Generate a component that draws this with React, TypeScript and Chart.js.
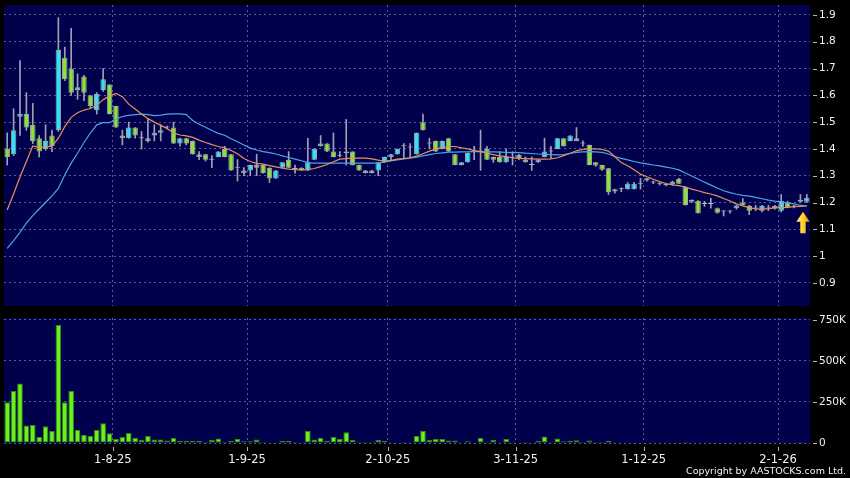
import React, { useEffect, useRef } from 'react';
import { Chart, registerables } from 'chart.js';

Chart.register(...registerables);

const DATES: string[] = [
  '9-7-25','10-7-25','11-7-25','14-7-25','15-7-25','16-7-25','17-7-25','18-7-25','21-7-25','22-7-25',
  '23-7-25','24-7-25','25-7-25','28-7-25','29-7-25','30-7-25','31-7-25',
  '1-8-25','4-8-25','5-8-25','6-8-25','7-8-25','8-8-25','11-8-25','12-8-25','13-8-25','14-8-25',
  '15-8-25','18-8-25','19-8-25','20-8-25','21-8-25','22-8-25','25-8-25','26-8-25','27-8-25','28-8-25','29-8-25',
  '1-9-25','2-9-25','3-9-25','4-9-25','5-9-25','8-9-25','9-9-25','10-9-25','11-9-25','12-9-25',
  '15-9-25','16-9-25','17-9-25','18-9-25','19-9-25','22-9-25','23-9-25','24-9-25','25-9-25','26-9-25','29-9-25','30-9-25',
  '2-10-25','3-10-25','6-10-25','8-10-25','9-10-25','10-10-25','13-10-25','14-10-25','15-10-25','16-10-25',
  '17-10-25','20-10-25','21-10-25','22-10-25','23-10-25','24-10-25','27-10-25','28-10-25','30-10-25','31-10-25',
  '3-11-25','4-11-25','5-11-25','6-11-25','7-11-25','10-11-25','11-11-25','12-11-25','13-11-25','14-11-25',
  '17-11-25','18-11-25','19-11-25','20-11-25','21-11-25','24-11-25','25-11-25','26-11-25','27-11-25','28-11-25',
  '1-12-25','2-12-25','3-12-25','4-12-25','5-12-25','8-12-25','9-12-25','10-12-25','11-12-25','12-12-25',
  '15-12-25','16-12-25','17-12-25','18-12-25','19-12-25','22-12-25','23-12-25','24-12-25','29-12-25','30-12-25','31-12-25',
  '2-1-26','5-1-26','6-1-26','7-1-26','8-1-26',
];

const X_TICK_LABELS: string[] = ['1-8-25', '1-9-25', '2-10-25', '3-11-25', '1-12-25', '2-1-26'];

const OPEN: number[] = [
  1.40,1.38,1.52,1.53,1.49,1.44,1.40,1.45,1.47,1.74,
  1.70,1.62,1.67,1.60,1.545,1.62,1.64,1.56,1.45,1.44,
  1.48,1.44,1.43,1.45,1.46,1.48,1.48,1.42,1.44,1.43,
  1.38,1.38,1.36,1.37,1.40,1.38,1.33,1.32,1.32,1.34,
  1.34,1.33,1.29,1.33,1.36,1.325,1.33,1.32,1.36,1.42,
  1.42,1.39,1.375,1.385,1.39,1.34,1.32,1.32,1.32,1.35,
  1.37,1.38,1.41,1.405,1.38,1.50,1.42,1.43,1.40,1.44,
  1.38,1.34,1.35,1.39,1.39,1.40,1.37,1.37,1.35,1.365,
  1.377,1.36,1.34,1.35,1.37,1.39,1.40,1.44,1.43,1.43,
  1.42,1.415,1.35,1.34,1.328,1.25,1.25,1.25,1.25,1.27,
  1.282,1.275,1.27,1.27,1.268,1.288,1.259,1.203,1.207,1.195,
  1.195,1.179,1.167,1.167,1.179,1.20,1.187,1.178,1.169,1.178,
  1.187,1.169,1.20,1.185,1.203,1.203,
];

const HIGH: number[] = [
  1.46,1.55,1.73,1.61,1.57,1.45,1.49,1.47,1.89,1.78,
  1.85,1.68,1.675,1.60,1.61,1.70,1.64,1.56,1.47,1.50,
  1.48,1.465,1.51,1.49,1.49,1.485,1.50,1.44,1.44,1.43,
  1.39,1.38,1.375,1.39,1.41,1.38,1.36,1.33,1.34,1.38,
  1.34,1.33,1.32,1.35,1.39,1.34,1.33,1.44,1.40,1.45,
  1.42,1.46,1.39,1.51,1.39,1.34,1.32,1.32,1.35,1.37,
  1.38,1.40,1.42,1.42,1.46,1.53,1.44,1.43,1.43,1.44,
  1.38,1.35,1.385,1.41,1.47,1.41,1.37,1.39,1.40,1.39,
  1.38,1.37,1.37,1.36,1.44,1.41,1.44,1.44,1.45,1.48,
  1.43,1.415,1.35,1.34,1.328,1.25,1.255,1.275,1.275,1.29,
  1.29,1.28,1.275,1.27,1.28,1.29,1.26,1.21,1.207,1.205,
  1.216,1.18,1.17,1.17,1.19,1.215,1.19,1.19,1.19,1.19,
  1.19,1.23,1.205,1.19,1.23,1.23,
];

const LOW: number[] = [
  1.34,1.375,1.45,1.47,1.42,1.37,1.395,1.39,1.465,1.655,
  1.60,1.585,1.58,1.55,1.53,1.615,1.53,1.48,1.415,1.44,
  1.44,1.40,1.425,1.43,1.43,1.475,1.42,1.41,1.415,1.38,
  1.36,1.355,1.33,1.37,1.37,1.32,1.28,1.30,1.30,1.30,
  1.31,1.275,1.29,1.33,1.33,1.31,1.32,1.32,1.36,1.41,
  1.39,1.37,1.37,1.34,1.34,1.32,1.31,1.31,1.30,1.35,
  1.36,1.38,1.365,1.37,1.38,1.47,1.40,1.39,1.40,1.39,
  1.34,1.34,1.35,1.36,1.32,1.36,1.35,1.35,1.35,1.34,
  1.36,1.35,1.32,1.35,1.37,1.365,1.40,1.41,1.43,1.43,
  1.41,1.34,1.335,1.32,1.23,1.235,1.24,1.25,1.25,1.25,
  1.28,1.27,1.265,1.262,1.265,1.27,1.19,1.20,1.16,1.185,
  1.179,1.16,1.15,1.16,1.175,1.189,1.155,1.17,1.165,1.17,
  1.175,1.165,1.18,1.18,1.20,1.20,
];

const CLOSE: number[] = [
  1.37,1.47,1.53,1.48,1.43,1.39,1.43,1.41,1.77,1.66,
  1.61,1.63,1.61,1.56,1.605,1.66,1.53,1.48,1.44,1.48,
  1.45,1.44,1.44,1.46,1.47,1.48,1.42,1.44,1.42,1.38,
  1.37,1.36,1.36,1.39,1.37,1.32,1.33,1.31,1.34,1.33,
  1.31,1.29,1.32,1.35,1.33,1.325,1.32,1.35,1.40,1.41,
  1.39,1.37,1.375,1.39,1.34,1.32,1.31,1.31,1.35,1.37,
  1.38,1.40,1.41,1.405,1.46,1.47,1.42,1.39,1.43,1.39,
  1.34,1.35,1.385,1.39,1.39,1.36,1.36,1.35,1.37,1.365,
  1.365,1.35,1.34,1.36,1.39,1.39,1.44,1.41,1.45,1.44,
  1.42,1.34,1.338,1.322,1.238,1.241,1.25,1.27,1.27,1.27,
  1.291,1.275,1.27,1.265,1.278,1.27,1.191,1.21,1.16,1.195,
  1.195,1.162,1.167,1.167,1.189,1.189,1.169,1.178,1.187,1.178,
  1.179,1.206,1.182,1.185,1.21,1.218,
];

const MA_FAST: number[] = [
  1.172,1.232,1.295,1.353,1.411,1.405,1.408,1.41,1.44,1.483,
  1.518,1.535,1.545,1.551,1.563,1.584,1.598,1.607,1.595,1.567,
  1.549,1.53,1.513,1.50,1.488,1.476,1.46,1.452,1.449,1.443,
  1.433,1.424,1.416,1.409,1.404,1.394,1.382,1.364,1.353,1.346,
  1.343,1.338,1.333,1.328,1.325,1.323,1.322,1.323,1.327,1.334,
  1.342,1.352,1.362,1.364,1.366,1.366,1.366,1.363,1.358,1.354,
  1.357,1.362,1.364,1.367,1.373,1.382,1.392,1.399,1.405,1.409,
  1.409,1.404,1.40,1.394,1.39,1.384,1.379,1.374,1.371,1.367,
  1.365,1.364,1.363,1.362,1.362,1.363,1.367,1.375,1.384,1.393,
  1.398,1.40,1.40,1.398,1.392,1.371,1.349,1.337,1.322,1.306,
  1.296,1.287,1.278,1.271,1.266,1.263,1.258,1.25,1.244,1.237,
  1.232,1.225,1.215,1.206,1.195,1.187,1.181,1.176,1.175,1.177,
  1.18,1.181,1.182,1.185,1.186,1.187,
];

const MA_SLOW: number[] = [
  1.029,1.058,1.089,1.123,1.151,1.176,1.20,1.225,1.253,1.303,
  1.347,1.384,1.424,1.459,1.49,1.498,1.498,1.511,1.521,1.525,
  1.528,1.53,1.528,1.524,1.526,1.53,1.531,1.531,1.528,1.506,
  1.492,1.481,1.469,1.458,1.451,1.438,1.427,1.415,1.403,1.396,
  1.39,1.386,1.381,1.374,1.368,1.362,1.356,1.349,1.347,1.347,
  1.347,1.347,1.347,1.347,1.347,1.347,1.347,1.347,1.348,1.351,
  1.355,1.359,1.363,1.366,1.369,1.374,1.379,1.383,1.385,1.388,
  1.388,1.389,1.389,1.39,1.39,1.389,1.389,1.388,1.387,1.386,
  1.386,1.384,1.383,1.381,1.38,1.379,1.378,1.379,1.383,1.387,
  1.389,1.39,1.389,1.387,1.381,1.371,1.365,1.359,1.353,1.348,
  1.344,1.34,1.337,1.332,1.328,1.322,1.31,1.299,1.288,1.276,
  1.265,1.254,1.244,1.237,1.231,1.227,1.224,1.219,1.214,1.209,
  1.205,1.202,1.199,1.195,1.19,1.187,
];

// volume in thousands of shares
const VOLUME_K: number[] = [
  248,317,362,106,110,37,102,73,720,248,
  317,79,49,43,79,120,59,24,37,61,
  30,20,43,22,22,16,30,14,14,12,
  14,8,18,28,8,12,24,10,10,22,
  6,4,4,12,12,6,2,73,22,30,
  14,37,26,65,18,8,8,8,18,12,
  4,2,6,4,43,73,20,24,24,16,
  16,4,10,2,30,8,18,4,24,6,
  4,6,4,12,39,6,28,11,13,17,
  8,16,6,6,14,4,2,3,2,2,
  2,1,2,2,3,2,8,2,3,1,
  2,2,2,1,2,2,6,1,2,1,
  2,3,2,2,6,2,
];

const PRICE_TICKS: number[] = [0.9, 1, 1.1, 1.2, 1.3, 1.4, 1.5, 1.6, 1.7, 1.8, 1.9];
const PRICE_MIN = 0.814;
const PRICE_MAX = 1.937;
const VOLUME_TICKS: number[] = [0, 250000, 500000, 750000];
const VOLUME_MAX = 762000;
const ARROW_BASE = 1.085;
const ARROW_TIP = 1.166;

const NAVY = '#00004c';
const GRID = '#5c5c8e';
const TEXT = '#f2f2f2';
const FONT = 'DejaVu Sans';
const UP = '#30e2f4';
const DOWN = '#8ae23a';
const BODY_BORDER = '#a4a4ac';
const DOJI = '#b4b4c4';
const WICK = '#a0a0b4';
const VOL_FILL = '#6cf01c';
const VOL_BORDER = '#2f8c12';
const ORANGE = '#e8905c';
const BLUE = '#4aa6e6';
const AXIS_W = 40;
const SLOT_HALF = 3.2;

const panelBg = {
  id: 'panelBg',
  beforeDraw(chart: any) {
    const { ctx, chartArea: a } = chart;
    ctx.save();
    ctx.fillStyle = NAVY;
    ctx.fillRect(a.left, a.top, a.right - a.left, a.bottom - a.top);
    ctx.restore();
  },
};

const tickMarks = {
  id: 'tickMarks',
  afterDraw(chart: any, _args: any, opts: any) {
    const { ctx, chartArea: a } = chart;
    const ys = chart.scales.y;
    ctx.save();
    ctx.strokeStyle = '#b4b4b4';
    ctx.lineWidth = 1;
    ys.ticks.forEach((t: any) => {
      const py = Math.round(ys.getPixelForValue(t.value)) + 0.5;
      ctx.beginPath();
      ctx.moveTo(a.right + 3, py);
      ctx.lineTo(a.right + 7, py);
      ctx.stroke();
    });
    if (opts && opts.xMarks) {
      const xs = chart.scales.x;
      DATES.forEach((d, i) => {
        if (!X_TICK_LABELS.includes(d)) return;
        const px = Math.round(xs.getPixelForValue(i) - SLOT_HALF) + 0.5;
        ctx.beginPath();
        ctx.moveTo(px, a.bottom + 4);
        ctx.lineTo(px, a.bottom + 8);
        ctx.stroke();
      });
    }
    ctx.restore();
  },
};

const arrowPlugin = {
  id: 'arrowMark',
  afterDatasetsDraw(chart: any) {
    const { ctx } = chart;
    const xs = chart.scales.x;
    const ys = chart.scales.y;
    const cx = xs.getPixelForValue(DATES.length - 1) - 3.8;
    const tip = ys.getPixelForValue(ARROW_TIP);
    const base = ys.getPixelForValue(ARROW_BASE);
    const hw = 6.6;
    const sw = 2.7;
    const hh = 10;
    const g = ctx.createLinearGradient(cx - hw, 0, cx + hw, 0);
    g.addColorStop(0, '#fff48a');
    g.addColorStop(0.5, '#ffd22a');
    g.addColorStop(1, '#e89a00');
    ctx.save();
    ctx.fillStyle = g;
    ctx.beginPath();
    ctx.moveTo(cx, tip);
    ctx.lineTo(cx + hw, tip + hh);
    ctx.lineTo(cx + sw, tip + hh);
    ctx.lineTo(cx + sw, base);
    ctx.lineTo(cx - sw, base);
    ctx.lineTo(cx - sw, tip + hh);
    ctx.lineTo(cx - hw, tip + hh);
    ctx.closePath();
    ctx.fill();
    ctx.restore();
  },
};

const isMonthTick = (i: any) => typeof i === 'number' && X_TICK_LABELS.includes(DATES[i]);

const zeroPad = (s: any) => {
  s.paddingTop = 0;
  s.paddingBottom = 0;
  s.paddingLeft = 0;
  s.paddingRight = 0;
};

const makeX = (showLabels: boolean) => ({
  type: 'category',
  offset: true,
  grid: {
    offset: true,
    drawTicks: false,
    lineWidth: 1,
    color: (c: any) => (isMonthTick(c.index) ? GRID : 'rgba(0,0,0,0)'),
  },
  border: { display: false, dash: [2, 3] },
  ticks: {
    display: showLabels,
    autoSkip: false,
    maxRotation: 0,
    minRotation: 0,
    padding: 10,
    labelOffset: -SLOT_HALF,
    color: TEXT,
    font: { family: FONT, size: 11.5 },
    callback: (_v: any, i: number) => (isMonthTick(i) ? DATES[i] : ''),
  },
  afterFit: (s: any) => {
    s.height = showLabels ? 35 : 0;
    zeroPad(s);
  },
});

const makeY = (min: number, max: number, tickValues: number[], fmt: (v: number) => string) => ({
  type: 'linear',
  position: 'right',
  min,
  max,
  afterBuildTicks: (s: any) => {
    s.ticks = tickValues.map((v) => ({ value: v }));
  },
  afterFit: (s: any) => {
    s.width = AXIS_W;
    zeroPad(s);
  },
  grid: { color: GRID, drawTicks: false, lineWidth: 1 },
  border: { display: false, dash: [2, 3] },
  ticks: {
    padding: 9,
    color: TEXT,
    font: { family: FONT, size: 10.5 },
    callback: (v: any) => fmt(Number(v)),
  },
});

export default function App() {
  const priceRef = useRef<HTMLCanvasElement>(null);
  const volRef = useRef<HTMLCanvasElement>(null);

  useEffect(() => {
    const bodyColor = OPEN.map((o, i) => (CLOSE[i] > o ? UP : CLOSE[i] < o ? DOWN : DOJI));
    const bodyBorder = OPEN.map((o, i) => (CLOSE[i] === o ? DOJI : BODY_BORDER));

    const price = new Chart(priceRef.current as HTMLCanvasElement, {
      type: 'bar',
      data: {
        labels: DATES,
        datasets: [
          {
            type: 'line',
            label: 'MA fast',
            data: MA_FAST,
            borderColor: ORANGE,
            borderWidth: 1.2,
            pointRadius: 0,
            tension: 0,
            order: 0,
          } as any,
          {
            type: 'line',
            label: 'MA slow',
            data: MA_SLOW,
            borderColor: BLUE,
            borderWidth: 1.2,
            pointRadius: 0,
            tension: 0,
            order: 1,
          } as any,
          {
            type: 'bar',
            label: 'body',
            data: OPEN.map((o, i) => [o, CLOSE[i]]),
            backgroundColor: bodyColor,
            borderColor: bodyBorder,
            borderWidth: 1,
            borderSkipped: false,
            grouped: false,
            barPercentage: 1,
            categoryPercentage: 0.86,
            minBarLength: 1,
            order: 2,
          } as any,
          {
            type: 'bar',
            label: 'wick',
            data: HIGH.map((h, i) => [LOW[i], h]),
            backgroundColor: WICK,
            borderWidth: 0,
            grouped: false,
            barThickness: 1,
            order: 3,
          } as any,
        ],
      },
      options: {
        responsive: false,
        animation: false,
        devicePixelRatio: 1,
        events: [],
        layout: { padding: { left: 4, top: 5, right: 0, bottom: 6 } },
        plugins: { legend: { display: false }, tooltip: { enabled: false }, tickMarks: { xMarks: false } } as any,
        scales: {
          x: makeX(false) as any,
          y: makeY(PRICE_MIN, PRICE_MAX, PRICE_TICKS, (v) => String(Math.round(v * 10) / 10)) as any,
        },
      },
      plugins: [panelBg, tickMarks, arrowPlugin],
    });

    const vol = new Chart(volRef.current as HTMLCanvasElement, {
      type: 'bar',
      data: {
        labels: DATES,
        datasets: [
          {
            label: 'Volume',
            data: VOLUME_K.map((v) => v * 1000),
            backgroundColor: VOL_FILL,
            borderColor: VOL_BORDER,
            borderWidth: 1,
            borderSkipped: false,
            barPercentage: 1,
            categoryPercentage: 0.88,
          } as any,
        ],
      },
      options: {
        responsive: false,
        animation: false,
        devicePixelRatio: 1,
        events: [],
        layout: { padding: { left: 4, top: 6, right: 0, bottom: 0 } },
        plugins: { legend: { display: false }, tooltip: { enabled: false }, tickMarks: { xMarks: true } } as any,
        scales: {
          x: makeX(true) as any,
          y: makeY(0, VOLUME_MAX, VOLUME_TICKS, (v) => (v === 0 ? '0' : v / 1000 + 'K')) as any,
        },
      },
      plugins: [panelBg, tickMarks],
    });

    return () => {
      price.destroy();
      vol.destroy();
    };
  }, []);

  return (
    <div
      style={{
        position: 'fixed',
        left: 0,
        top: 0,
        width: 850,
        height: 478,
        background: '#000000',
        overflow: 'hidden',
      }}
    >
      <canvas
        ref={priceRef}
        width={850}
        height={312}
        style={{ position: 'absolute', left: 0, top: 0, width: 850, height: 312, display: 'block' }}
      />
      <canvas
        ref={volRef}
        width={850}
        height={166}
        style={{ position: 'absolute', left: 0, top: 312, width: 850, height: 166, display: 'block' }}
      />
      <div
        style={{
          position: 'absolute',
          right: 4,
          top: 465,
          fontFamily: '"DejaVu Sans"',
          fontSize: '9.5px',
          lineHeight: '12px',
          color: TEXT,
          whiteSpace: 'nowrap',
        }}
      >
        Copyright by AASTOCKS.com Ltd.
      </div>
    </div>
  );
}
